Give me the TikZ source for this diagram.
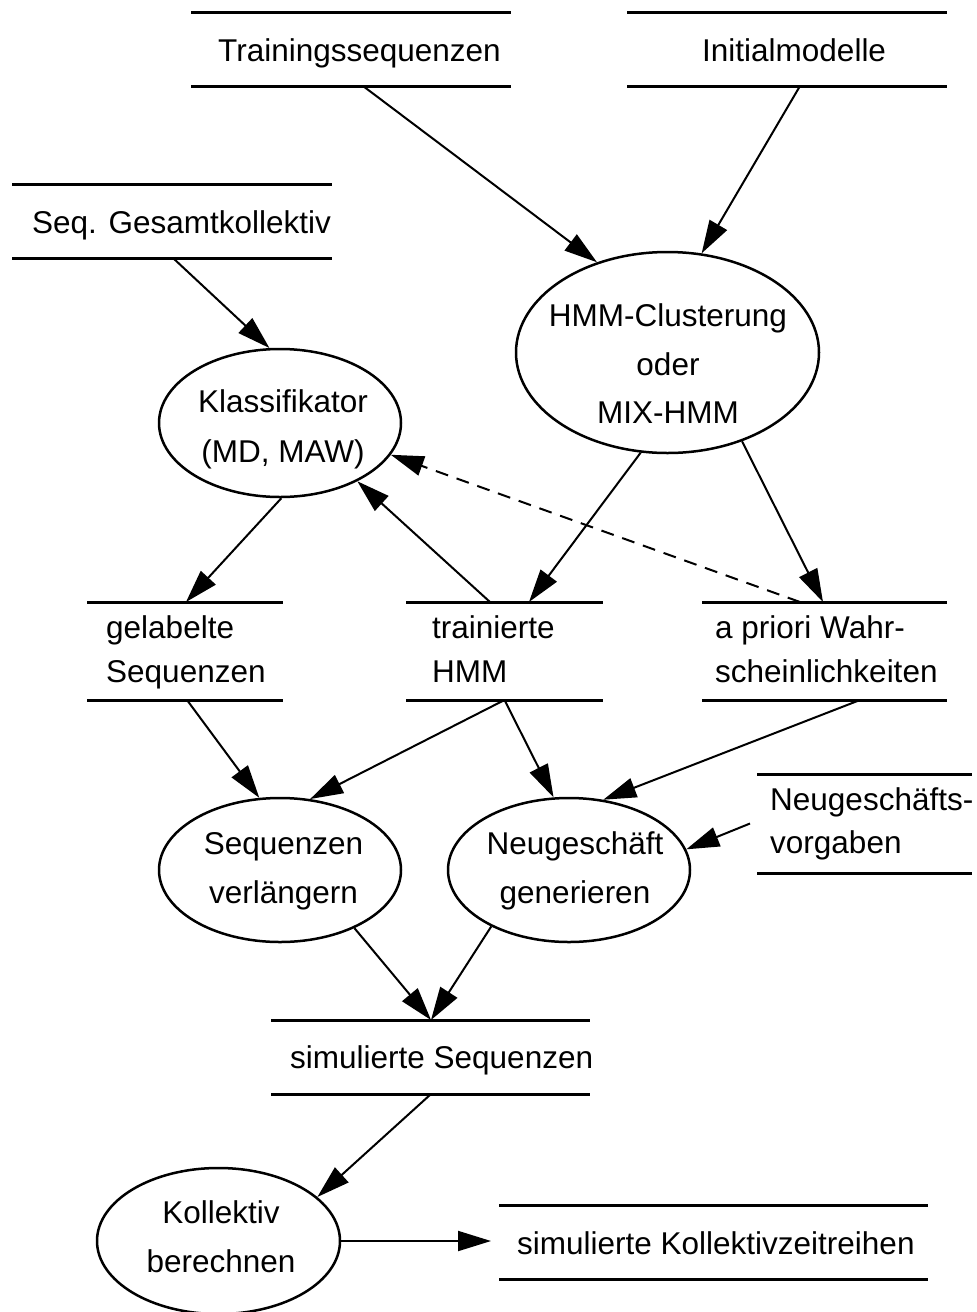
\documentclass[tikz,border=0pt]{standalone}
\usepackage{fontspec}
\setmainfont{Liberation Sans}
\usetikzlibrary{shapes.geometric,arrows.meta,calc}
\begin{document}
\begin{tikzpicture}[x=1pt,y=-1pt,
  store/.style={rectangle, inner sep=0pt, outer sep=0pt, draw=none},
  storeline/.style={line width=3pt},
  proc/.style={ellipse, draw, line width=2.5pt, inner sep=0pt},
  lbl/.style={inner sep=0pt, anchor=base west, font=\fontsize{31.5}{38}\selectfont},
  clbl/.style={inner sep=0pt, anchor=base, font=\fontsize{31.5}{38}\selectfont},
  flow/.style={-{Triangle[length=33pt,width=20pt]}, line width=2pt},
  flowdash/.style={flow, dash pattern=on 13pt off 9pt},
]
\useasboundingbox (0,0) rectangle (977,1312);

% data stores
\node[store, minimum width=320pt, minimum height=74pt] (ts) at (351,49) {};
\node[store, minimum width=320pt, minimum height=74pt] (im) at (787,49) {};
\node[store, minimum width=320pt, minimum height=74pt] (sg) at (172,221) {};
\node[store, minimum width=196pt, minimum height=98pt] (gs) at (185,651) {};
\node[store, minimum width=197pt, minimum height=98pt] (th) at (504.5,651) {};
\node[store, minimum width=245pt, minimum height=98pt] (ap) at (824.5,651) {};
\node[store, minimum width=215pt, minimum height=99pt] (nv) at (864.5,823.5) {};
\node[store, minimum width=319pt, minimum height=74pt] (ss) at (430.5,1057) {};
\node[store, minimum width=429pt, minimum height=74pt] (kz) at (713.5,1242) {};
\foreach \s in {ts,im,sg,gs,th,ap,nv,ss,kz}{
  \draw[storeline] (\s.north west) -- (\s.north east) (\s.south west) -- (\s.south east);
}

% store texts
\node[lbl] (tst) at (218,61) {Trainingssequenzen};
\node[lbl] (imt) at (702,61) {Initialmodelle};
\node[lbl] (sgt) at (32,233) {Seq. Gesamtkollektiv};
\node[lbl] (gst1) at (106,638) {gelabelte};
\node[lbl] (gst2) at (106,682) {Sequenzen};
\node[lbl] (tht1) at (432,638) {trainierte};
\node[lbl] (tht2) at (432,682) {HMM};
\node[lbl] (apt1) at (715,638) {a priori Wahr-};
\node[lbl] (apt2) at (715,682) {scheinlichkeiten};
\node[lbl] (nvt1) at (770,810) {Neugeschäfts-};
\node[lbl] (nvt2) at (770,853) {vorgaben};
\node[lbl] (sst) at (290,1068) {simulierte Sequenzen};
\node[lbl] (kzt) at (517,1254) {simulierte Kollektivzeitreihen};

% processes
\node[proc, minimum width=303pt, minimum height=201pt] (hmm) at (667.5,352.5) {};
\node[proc, minimum width=242pt, minimum height=148pt] (kl) at (280,423) {};
\node[proc, minimum width=242pt, minimum height=144pt] (sv) at (280,870) {};
\node[proc, minimum width=242pt, minimum height=144pt] (ng) at (569,870) {};
\node[proc, minimum width=243pt, minimum height=146pt] (kb) at (218.5,1241) {};

% process texts
\node[clbl] (hmmt1) at (668,326) {HMM-Clusterung};
\node[clbl] (hmmt2) at (668,375) {oder};
\node[clbl] (hmmt3) at (668,423) {MIX-HMM};
\node[clbl] (klt1) at (283,412) {Klassifikator};
\node[clbl] (klt2) at (283,462) {(MD, MAW)};
\node[clbl] (svt1) at (283.5,854) {Sequenzen};
\node[clbl] (svt2) at (283.5,903) {verlängern};
\node[clbl] (ngt1) at (575,854) {Neugeschäft};
\node[clbl] (ngt2) at (575,903) {generieren};
\node[clbl] (kbt1) at (221,1223) {Kollektiv};
\node[clbl] (kbt2) at (221,1272) {berechnen};

% connectors
\draw[flow] ([xshift=12pt]ts.south) -- (hmm.128.7);
\draw[flow] ([xshift=13pt]im.south) -- (hmm.71.2);
\draw[flow] ([xshift=1pt]sg.south) -- (kl.98.3);
\draw[flow] (kl.271.5) -- ([xshift=1pt]gs.north);
\draw[flow] ([xshift=-14.5pt]th.north) -- (kl.323.8);
\draw[flow] (hmm.255) -- ([xshift=24.5pt]th.north);
\draw[flow] (hmm.310.2) -- ([xshift=-1.5pt]ap.north);
\draw[flowdash] ([xshift=-24.5pt]ap.north) -- (kl.344.4);
\draw[flow] ([xshift=2pt]gs.south) -- (sv.106.8);
\draw[flow] (th.south) -- (sv.67.7);
\draw[flow] (th.south) -- (ng.102.5);
\draw[flow] ([xshift=35.5pt]ap.south) -- (ng.64.1);
\draw[flow] ([xshift=-7pt]nv.west) -- (ng.10.6);
\draw[flow] (sv.322.4) -- ([xshift=0.5pt]ss.north);
\draw[flow] (ng.216.5) -- ([xshift=0.5pt]ss.north);
\draw[flow] ([xshift=0.5pt]ss.south) -- (kb.24.7);
\draw[flow] (kb.east) -- ([xshift=-8pt]kb.east -| kz.west);
\end{tikzpicture}
\end{document}
